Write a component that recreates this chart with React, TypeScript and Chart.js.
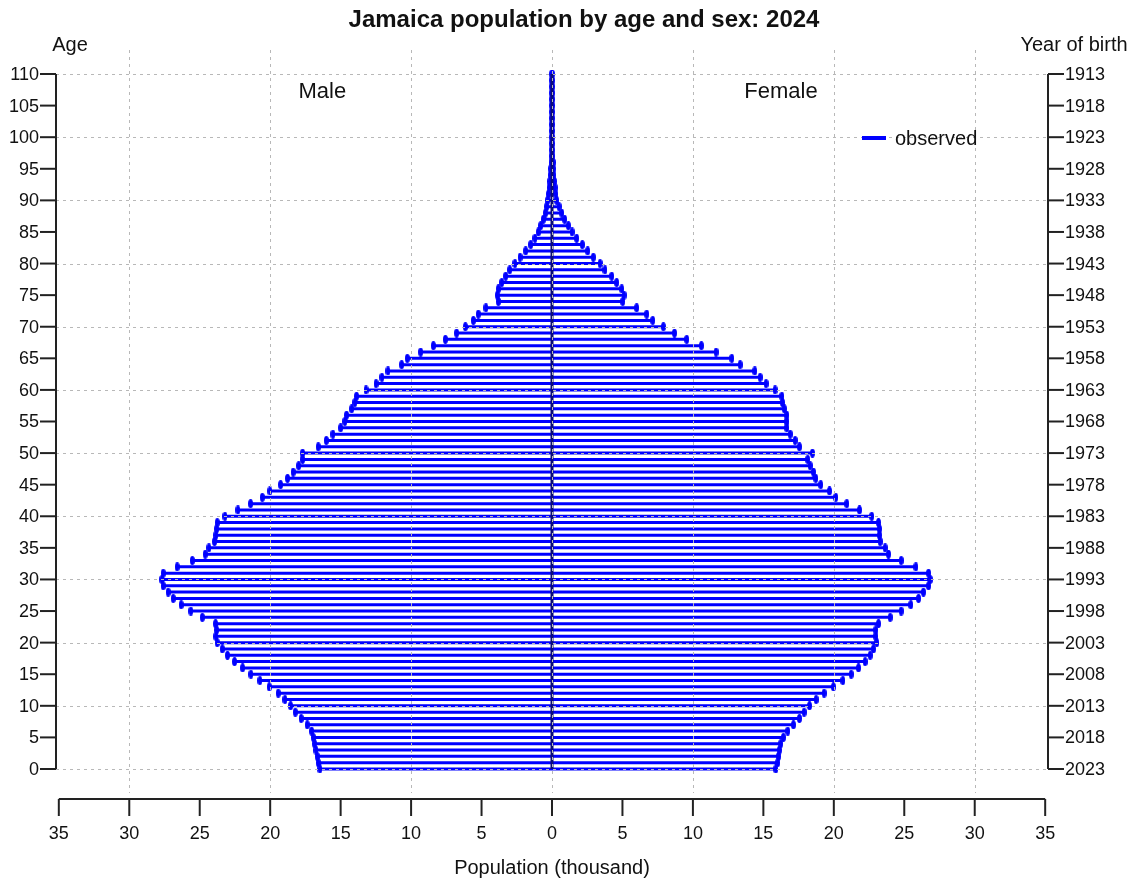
import React, { useEffect, useRef } from 'react';
import { Chart, registerables } from 'chart.js';

Chart.register(...registerables);

// Ages (categories) 0..110
const ages: number[] = Array.from({ length: 111 }, (_, i) => i);

// Population (thousand), male, by single year of age 0..110
const male: number[] = [
  16.47, 16.59, 16.66, 16.75, 16.85, 16.94, 17.06, 17.37, 17.80, 18.22,
  18.55, 18.95, 19.43, 20.07, 20.73, 21.37, 21.96, 22.53, 23.03, 23.40,
  23.76, 23.85, 23.80, 23.88, 24.82, 25.63, 26.32, 26.88, 27.24, 27.59,
  27.69, 27.59, 26.60, 25.53, 24.61, 24.35, 23.95, 23.85, 23.80, 23.76,
  23.21, 22.29, 21.39, 20.56, 20.02, 19.26, 18.77, 18.37, 17.98, 17.70,
  17.70, 16.59, 16.02, 15.55, 15.00, 14.70, 14.58, 14.22, 13.99, 13.87,
  13.20, 12.49, 12.07, 11.64, 10.67, 10.27, 9.32, 8.42, 7.57, 6.77,
  6.15, 5.58, 5.23, 4.69, 3.81, 3.88, 3.81, 3.57, 3.29, 3.00,
  2.63, 2.27, 1.87, 1.51, 1.21, 0.97, 0.80, 0.62, 0.47, 0.38,
  0.31, 0.25, 0.20, 0.15, 0.12, 0.09, 0.07, 0.05, 0.04, 0.03,
  0.02, 0.015, 0.01, 0.008, 0.006, 0.004, 0.003, 0.002, 0.001, 0.001, 0.001,
];

// Population (thousand), female, by single year of age 0..110
const female: number[] = [
  15.88, 16.02, 16.07, 16.14, 16.23, 16.42, 16.73, 17.13, 17.56, 17.89,
  18.27, 18.74, 19.31, 19.97, 20.64, 21.23, 21.75, 22.22, 22.58, 22.81,
  23.05, 22.98, 22.98, 23.17, 24.00, 24.78, 25.46, 26.01, 26.36, 26.72,
  26.84, 26.72, 25.82, 24.78, 23.88, 23.64, 23.29, 23.24, 23.24, 23.17,
  22.69, 21.82, 20.92, 20.14, 19.69, 19.07, 18.72, 18.55, 18.32, 18.15,
  18.48, 17.56, 17.25, 16.90, 16.66, 16.66, 16.66, 16.49, 16.35, 16.31,
  15.83, 15.19, 14.77, 14.39, 13.35, 12.76, 11.64, 10.60, 9.56, 8.69,
  7.90, 7.15, 6.72, 6.01, 5.02, 5.11, 4.95, 4.59, 4.24, 3.76,
  3.41, 2.93, 2.53, 2.15, 1.75, 1.42, 1.16, 0.90, 0.69, 0.50,
  0.33, 0.27, 0.22, 0.17, 0.13, 0.10, 0.08, 0.06, 0.04, 0.03,
  0.02, 0.015, 0.01, 0.008, 0.006, 0.004, 0.003, 0.002, 0.001, 0.001, 0.001,
];

// Tick values / labels
const ageTicks: number[] = [0, 5, 10, 15, 20, 25, 30, 35, 40, 45, 50, 55, 60, 65, 70, 75, 80, 85, 90, 95, 100, 105, 110];
const ageTickLabels: string[] = ['0', '5', '10', '15', '20', '25', '30', '35', '40', '45', '50', '55', '60', '65', '70', '75', '80', '85', '90', '95', '100', '105', '110'];
const birthYearLabels: string[] = ['2023', '2018', '2013', '2008', '2003', '1998', '1993', '1988', '1983', '1978', '1973', '1968', '1963', '1958', '1953', '1948', '1943', '1938', '1933', '1928', '1923', '1918', '1913'];
const popTicks: number[] = [-35, -30, -25, -20, -15, -10, -5, 0, 5, 10, 15, 20, 25, 30, 35];
const popTickLabels: string[] = ['35', '30', '25', '20', '15', '10', '5', '0', '5', '10', '15', '20', '25', '30', '35'];
const gridPop: number[] = [-30, -20, -10, 0, 10, 20, 30];
const gridAge: number[] = [0, 10, 20, 30, 40, 50, 60, 70, 80, 90, 100, 110];
const centerLine = [{ x: 0, y: 0 }, { x: 0, y: 110 }];

const FONT = '"Liberation Sans", Arial, Helvetica, sans-serif';
const BLUE = '#0000ff';

function makeMarker(): HTMLCanvasElement {
  const c = document.createElement('canvas');
  c.width = 5;
  c.height = 9;
  const g = c.getContext('2d');
  if (g) {
    g.fillStyle = BLUE;
    g.beginPath();
    g.ellipse(2.5, 4.5, 2.5, 4.5, 0, 0, Math.PI * 2);
    g.fill();
  }
  return c;
}

const decorPlugin = {
  id: 'decor',
  afterDatasetsDraw(chart: any) {
    const { ctx, chartArea: ca, scales } = chart;
    const xs = scales.x;
    const ys = scales.y;
    const line = (x1: number, y1: number, x2: number, y2: number) => {
      ctx.beginPath();
      ctx.moveTo(x1, y1);
      ctx.lineTo(x2, y2);
      ctx.stroke();
    };
    ctx.save();

    // grid (drawn over the data)
    ctx.strokeStyle = '#b8b8b8';
    ctx.lineWidth = 1;
    ctx.setLineDash([3, 4]);
    for (const v of gridPop) {
      const px = Math.round(xs.getPixelForValue(v)) + 0.5;
      line(px, ca.top, px, ca.bottom);
    }
    for (const a of gridAge) {
      const py = Math.round(ys.getPixelForValue(a)) + 0.5;
      line(ca.left, py, ca.right, py);
    }
    ctx.setLineDash([]);

    // axes
    ctx.strokeStyle = '#222';
    ctx.lineWidth = 2;
    ctx.fillStyle = '#111';
    const yTop = ys.getPixelForValue(ageTicks[ageTicks.length - 1]);
    const yBot = ys.getPixelForValue(ageTicks[0]);
    line(ca.left, yTop, ca.left, yBot);
    line(ca.right, yTop, ca.right, yBot);
    ctx.font = `18px ${FONT}`;
    ctx.textBaseline = 'middle';
    ageTicks.forEach((a, i) => {
      const py = ys.getPixelForValue(a);
      line(ca.left - 16, py, ca.left, py);
      line(ca.right, py, ca.right + 16, py);
      ctx.textAlign = 'right';
      ctx.fillText(ageTickLabels[i], ca.left - 17, py + 1);
      ctx.textAlign = 'left';
      ctx.fillText(birthYearLabels[i], ca.right + 17, py + 1);
    });

    // bottom axis
    const axY = ca.bottom + 6;
    const xL = xs.getPixelForValue(popTicks[0]);
    const xR = xs.getPixelForValue(popTicks[popTicks.length - 1]);
    line(xL, axY, xR, axY);
    ctx.textAlign = 'center';
    popTicks.forEach((v, i) => {
      const px = xs.getPixelForValue(v);
      line(px, axY, px, axY + 17);
      ctx.fillText(popTickLabels[i], px, axY + 35);
    });

    // axis titles
    ctx.font = `20px ${FONT}`;
    ctx.textAlign = 'center';
    ctx.fillText('Population (thousand)', xs.getPixelForValue(0), 868);
    ctx.fillText('Age', 70, 45);
    ctx.fillText('Year of birth', 1074, 45);

    // panel labels
    ctx.font = `22px ${FONT}`;
    ctx.fillText('Male', xs.getPixelForValue(-16.3), ys.getPixelForValue(107.2));
    ctx.fillText('Female', xs.getPixelForValue(16.25), ys.getPixelForValue(107.2));

    // legend
    ctx.strokeStyle = BLUE;
    ctx.lineWidth = 4;
    line(862, 138, 886, 138);
    ctx.font = `20px ${FONT}`;
    ctx.textAlign = 'left';
    ctx.fillText('observed', 895, 139);

    // title
    ctx.font = `bold 24px ${FONT}`;
    ctx.textAlign = 'center';
    ctx.fillText('Jamaica population by age and sex: 2024', 584, 20);

    ctx.restore();
  },
};

export default function App() {
  const canvasRef = useRef<HTMLCanvasElement | null>(null);

  useEffect(() => {
    const canvas = canvasRef.current;
    if (!canvas) return;
    const points: any[] = [];
    ages.forEach((a, i) => {
      points.push({ x: -male[i], y: a });
      points.push({ x: female[i], y: a });
      points.push({ x: null, y: null });
    });
    const marker = makeMarker();
    const chart = new Chart(canvas, {
      type: 'scatter',
      data: {
        datasets: [
          {
            label: 'zero',
            data: centerLine,
            showLine: true,
            borderColor: '#0c0c78',
            borderWidth: 3,
            pointRadius: 0,
          } as any,
          {
            label: 'observed',
            data: points,
            showLine: true,
            spanGaps: false,
            borderColor: BLUE,
            borderWidth: 3,
            pointStyle: marker,
            pointRadius: 4,
            pointBorderWidth: 0,
            pointBorderColor: BLUE,
            pointBackgroundColor: BLUE,
          } as any,
        ],
      },
      options: {
        responsive: false,
        animation: false,
        events: [],
        devicePixelRatio: 1,
        layout: { padding: { left: 56, right: 86, top: 50, bottom: 88 } },
        plugins: {
          legend: { display: false },
          tooltip: { enabled: false },
          title: { display: false },
        },
        scales: {
          x: { type: 'linear', min: -35.2, max: 35.2, display: false },
          y: { type: 'linear', min: -3.8, max: 113.8, display: false },
        },
      },
      plugins: [decorPlugin],
    });
    return () => chart.destroy();
  }, []);

  return (
    <div style={{ position: 'absolute', left: 0, top: 0, width: 1134, height: 881, background: '#fff' }}>
      <canvas ref={canvasRef} width={1134} height={881} style={{ display: 'block' }} />
    </div>
  );
}
